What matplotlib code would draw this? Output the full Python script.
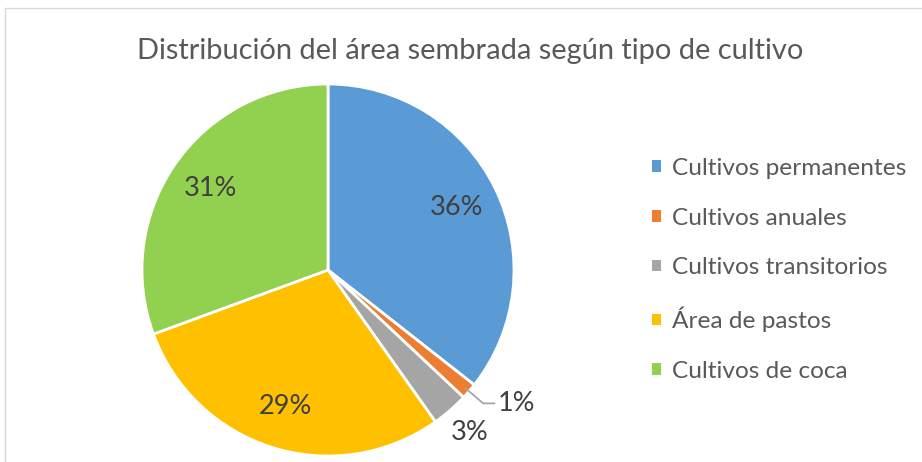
import matplotlib
matplotlib.use("Agg")
import matplotlib.pyplot as plt
import numpy as np
from matplotlib.patches import Rectangle

categories = ["Cultivos permanentes", "Cultivos anuales", "Cultivos transitorios",
              "Área de pastos", "Cultivos de coca"]
values = [35.6, 1.4, 3.2, 29.2, 30.6]
pct_labels = ["36%", "1%", "3%", "29%", "31%"]
colors = ["#5b9bd5", "#ed7d31", "#a5a5a5", "#ffc000", "#92d050"]
title = "Distribución del área sembrada según tipo de cultivo"

plt.rcParams['font.family'] = ['Lato', 'DejaVu Sans']

W, H = 922, 462
fig = plt.figure(figsize=(W / 100, H / 100), dpi=100)

# chart border (light gray)
fig.patches.append(Rectangle((5 / W, -0.05), 1.2, (H - 8) / H + 0.05,
                             transform=fig.transFigure, fill=False,
                             edgecolor="#d9d9d9", linewidth=1.0))

cx, cy, r = 328, 270, 186
ax = fig.add_axes([(cx - r) / W, (H - cy - r) / H, 2 * r / W, 2 * r / H])
wedges, _ = ax.pie(values, colors=colors, startangle=90, counterclock=False,
                   wedgeprops=dict(edgecolor="white", linewidth=2.0))
for w in wedges:
    w.set_clip_on(False)
ax.set_xlim(-1, 1)
ax.set_ylim(-1, 1)
ax.set_aspect("equal")
ax.axis("off")

lab_color = "#404040"
fs_lab = 19.5
for i, w in enumerate(wedges):
    ang = np.deg2rad((w.theta1 + w.theta2) / 2)
    d = np.array([np.cos(ang), np.sin(ang)])
    if values[i] >= 10:
        p = 0.77 * d
        ax.text(p[0], p[1], pct_labels[i], ha="center", va="center",
                fontsize=fs_lab, color=lab_color)
    elif values[i] < 2:
        s = 0.97 * d
        e = 1.1 * d
        e2 = e + np.array([0.065, 0])
        ax.plot([s[0], e[0], e2[0]], [s[1], e[1], e2[1]], color="#a6a6a6",
                lw=1.3, clip_on=False, solid_capstyle="butt")
        ax.text(e2[0] + 0.015, e2[1], pct_labels[i], ha="left", va="center",
                fontsize=fs_lab, color=lab_color)
    else:
        p = 1.16 * d
        ax.text(p[0], p[1], pct_labels[i], ha="center", va="center",
                fontsize=fs_lab, color=lab_color)

fig.text(0.5 * (136 + 805) / W, 1 - 51 / H, title, ha="center", va="center",
         fontsize=20.9, color="#595959")

leg = fig.legend(wedges, categories, loc="upper left",
                 bbox_to_anchor=(652 / W, 1 - 158 / H), frameon=False,
                 fontsize=17.6, labelcolor="#595959", handlelength=0.37,
                 handleheight=0.37, handletextpad=0.45, labelspacing=1.17,
                 borderpad=0, borderaxespad=0)
for h in leg.legend_handles:
    h.set_edgecolor("none")

fig.savefig("out.png", dpi=100)
